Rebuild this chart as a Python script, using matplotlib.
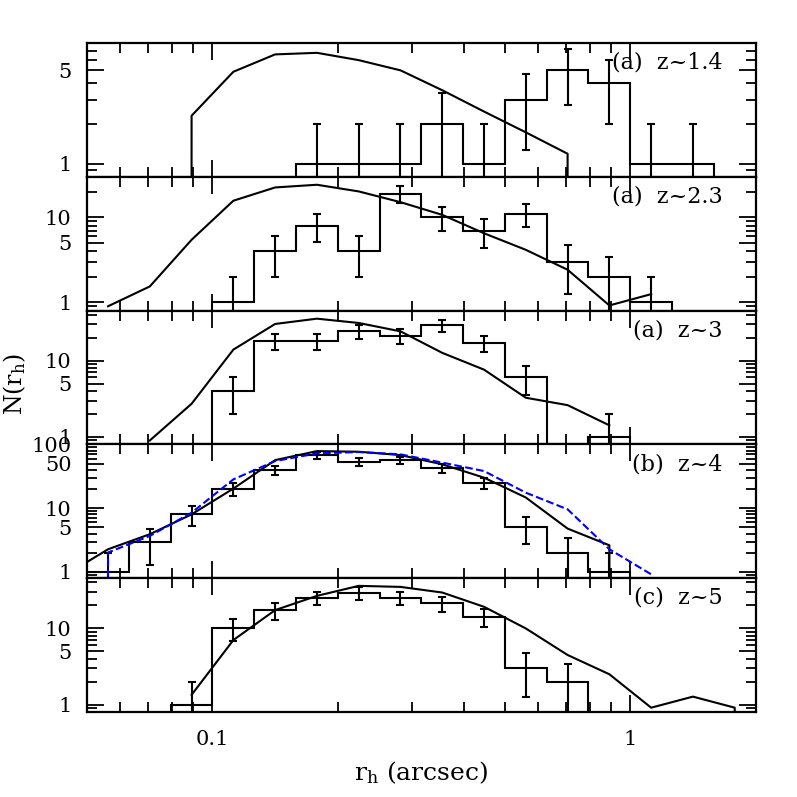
import numpy as np
import matplotlib
matplotlib.use("Agg")
import matplotlib.pyplot as plt
from matplotlib.ticker import FixedLocator, FixedFormatter, NullFormatter


plt.rcParams["font.family"] = ["DejaVu Serif"]
plt.rcParams["mathtext.fontset"] = "dejavuserif"


# ------------------------------------------------------------
# binning (log10 r_h, 0.1 dex bins)
# ------------------------------------------------------------

LOG_EDGES = [-1.3, -1.2, -1.1, -1.0, -0.9, -0.8, -0.7, -0.6, -0.5,
             -0.4, -0.3, -0.2, -0.1, 0.0, 0.1, 0.2, 0.3]
LOG_CENTERS = [-1.25, -1.15, -1.05, -0.95, -0.85, -0.75, -0.65, -0.55,
               -0.45, -0.35, -0.25, -0.15, -0.05, 0.05, 0.15, 0.25]

# ------------------------------------------------------------
# observed counts per bin
# ------------------------------------------------------------

counts_z14 = [0, 0, 0, 0, 0, 1, 1, 1, 2, 1, 3, 5, 4, 1, 1, 0]
counts_z23 = [0, 0, 0, 1, 4, 8, 4, 19, 10, 7, 11, 3, 2, 1, 0, 0]
counts_z3 = [0, 0, 0, 4, 18, 18, 24, 21, 29, 17, 6, 0, 1, 0, 0, 0]
counts_z4 = [1, 3, 8, 20, 39, 68, 53, 57, 42, 25, 5, 2, 1, 0, 0, 0]
counts_z5 = [0, 0, 1, 10, 17, 25, 29, 25, 21, 14, 3, 2, 0, 0, 0, 0]

# ------------------------------------------------------------
# model curves (log10 r_h, N)
# ------------------------------------------------------------

model_z14_x = [-1.15, -1.05, -0.95, -0.85, -0.75, -0.65, -0.55, -0.45,
               -0.35, -0.25, -0.15, -0.05]
model_z14_y = [0, 2.29, 4.88, 6.58, 6.76, 5.96, 5.0, 3.55, 2.46, 1.72, 1.19, 0]

model_z23_x = [-1.25, -1.15, -1.05, -0.95, -0.85, -0.75, -0.65, -0.55,
               -0.45, -0.35, -0.25, -0.15, -0.05, 0.05]
model_z23_y = [0.9, 1.54, 5.45, 15.7, 22.5, 24.2, 20.2, 15.1, 10.7, 6.5,
               4.15, 2.42, 0.92, 1.25]

model_z3_x = [-1.15, -1.05, -0.95, -0.85, -0.75, -0.65, -0.55, -0.45,
              -0.35, -0.25, -0.15, -0.05]
model_z3_y = [0.9, 2.72, 13.9, 30.1, 35.3, 31.0, 24.1, 12.6, 7.6, 3.26, 2.61, 1.42]

model_z4_x = [-1.35, -1.25, -1.15, -1.05, -0.95, -0.85, -0.75, -0.65,
              -0.55, -0.45, -0.35, -0.25, -0.15, -0.05, 0.05]
model_z4_y = [0.91, 2.27, 3.91, 8.0, 20.3, 56.7, 78.5, 76.7, 68.0, 48.7,
              30.1, 14.7, 4.79, 2.62, 0]
model_z4_blue_y = [0, 2.02, 3.67, 8.5, 28.3, 54.8, 72.3, 75.9, 69.8, 51.8,
                   38.2, 17.5, 9.6, 2.27, 0.92]

model_z5_x = [-1.05, -0.95, -0.85, -0.75, -0.65, -0.55, -0.45, -0.35,
              -0.25, -0.15, -0.05, 0.05, 0.15, 0.25, 0.35]
model_z5_y = [1.34, 6.98, 17.2, 26.4, 35.7, 34.6, 29.2, 19.0, 9.9, 4.45,
              2.49, 0.91, 1.27, 0.91, 0]

panel_labels = ["(a)  z~1.4", "(a)  z~2.3", "(a)  z~3", "(b)  z~4", "(c)  z~5"]
panel_ylims = [(0.8, 8), (0.8, 30), (0.8, 45), (0.8, 100), (0.8, 45)]
panel_yticks = [[1, 5], [1, 5, 10], [1, 5, 10], [1, 5, 10, 50, 100], [1, 5, 10]]

panels = [
    (counts_z14, [(model_z14_x, model_z14_y, "k", "-")]),
    (counts_z23, [(model_z23_x, model_z23_y, "k", "-")]),
    (counts_z3, [(model_z3_x, model_z3_y, "k", "-")]),
    (counts_z4, [(model_z4_x, model_z4_y, "k", "-"),
                 (model_z4_x, model_z4_blue_y, "#0000ff", "--")]),
    (counts_z5, [(model_z5_x, model_z5_y, "k", "-")]),
]

X_MAJOR = [0.1, 1]
X_MINOR = [0.06, 0.07, 0.08, 0.09, 0.2, 0.3, 0.4, 0.5, 0.6, 0.7, 0.8, 0.9, 2]
Y_MINOR_ALL = [0.9, 2, 3, 4, 6, 7, 8, 9, 20, 30, 40, 60, 70, 80, 90]

edges = 10 ** np.array(LOG_EDGES)
centers = 10 ** np.array(LOG_CENTERS)


# ------------------------------------------------------------
# Plot
# ------------------------------------------------------------

fig, axes = plt.subplots(5, 1, figsize=(7.97, 7.97), dpi=100, sharex=True)
fig.subplots_adjust(left=0.1088, right=0.9486, top=0.946, bottom=0.1067, hspace=0)

for i, ax in enumerate(axes):

    counts, curves = panels[i]
    counts = np.array(counts, dtype=float)

    ax.set_xscale("log")
    ax.set_yscale("log")

    ax.stairs(counts, edges, baseline=None, color="k", lw=1.5)

    nz = counts > 0
    ax.errorbar(centers[nz], counts[nz], yerr=np.sqrt(counts[nz]), fmt="none",
                ecolor="k", elinewidth=1.5, capsize=3, capthick=1.5)

    for cx, cy, col, ls in curves:
        ax.plot(10 ** np.array(cx), cy, color=col, ls=ls, lw=1.5)

    ax.set_xlim(0.05, 2.0)
    ax.set_ylim(*panel_ylims[i])

    ax.text(0.95, 0.935, panel_labels[i], transform=ax.transAxes,
            ha="right", va="top", fontsize=16)

    ymaj = panel_yticks[i]
    ymin = [v for v in Y_MINOR_ALL if panel_ylims[i][0] < v < panel_ylims[i][1]]
    ax.yaxis.set_major_locator(FixedLocator(ymaj))
    ax.yaxis.set_major_formatter(FixedFormatter([str(v) for v in ymaj]))
    ax.yaxis.set_minor_locator(FixedLocator(ymin))
    ax.yaxis.set_minor_formatter(NullFormatter())

    ax.xaxis.set_major_locator(FixedLocator(X_MAJOR))
    ax.xaxis.set_major_formatter(FixedFormatter(["0.1", "1"]))
    ax.xaxis.set_minor_locator(FixedLocator(X_MINOR))
    ax.xaxis.set_minor_formatter(NullFormatter())

    ax.tick_params(which="both", direction="in", top=True, right=True, width=1.3)
    ax.tick_params(which="major", length=12, labelsize=15)
    ax.tick_params(which="minor", length=7)
    ax.tick_params(axis="y", which="major", pad=11)
    ax.tick_params(axis="x", which="major", pad=13)

    for sp in ax.spines.values():
        sp.set_linewidth(1.6)

fig.text(0.528, 0.031, r"r$_{\rm h}$ (arcsec)", ha="center", va="center", fontsize=18)
fig.text(0.018, 0.518, r"N(r$_{\rm h}$)", rotation=90, ha="center", va="center", fontsize=17)

fig.savefig("out.png", dpi=100)
